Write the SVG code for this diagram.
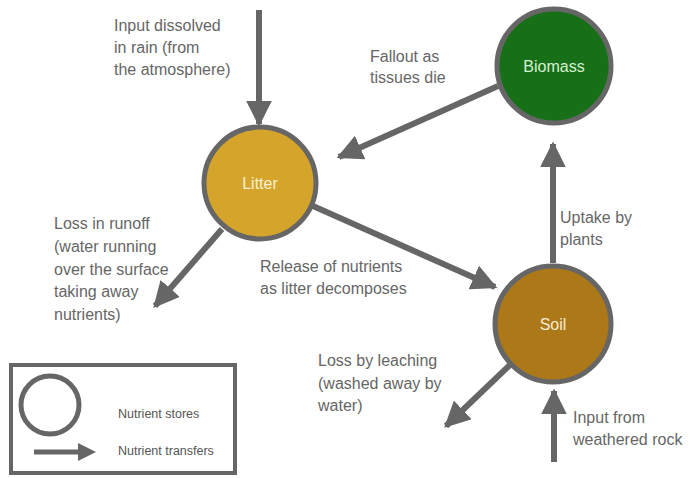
<svg xmlns="http://www.w3.org/2000/svg" width="694" height="478" viewBox="0 0 694 478">
<defs>
<style>
.node{stroke:#666;stroke-width:5}
.nl{font-family:"Liberation Sans",Arial,sans-serif;font-size:16px;text-anchor:middle}
.lbl{font-family:"Liberation Sans",Arial,sans-serif;font-size:16px;fill:#666}
.leg{font-family:"Liberation Sans",Arial,sans-serif;font-size:12.5px;fill:#555}
.conn line{stroke:#666;stroke-width:6}
</style>
<marker id="ah" viewBox="0 0 10 10" refX="9" refY="5" markerWidth="4.3" markerHeight="4.3" orient="auto" markerUnits="strokeWidth">
<path d="M0,0 L10,5 L0,10 Z" fill="#666"/>
</marker>
</defs>
<rect width="694" height="478" fill="#fff"/>
<g id="connectors" class="conn">
<line x1="259" y1="10" x2="259" y2="124" marker-end="url(#ah)"/>
<line x1="498" y1="86" x2="339" y2="157" marker-end="url(#ah)"/>
<line x1="313" y1="206" x2="495" y2="287" marker-end="url(#ah)"/>
<line x1="222" y1="229" x2="155" y2="306" marker-end="url(#ah)"/>
<line x1="553" y1="263" x2="553" y2="144" marker-end="url(#ah)"/>
<line x1="514" y1="361" x2="446" y2="426" marker-end="url(#ah)"/>
<line x1="554" y1="462" x2="554" y2="391" marker-end="url(#ah)"/>
</g>
<g id="litter">
<circle class="node" cx="260" cy="183" r="56" fill="#d5a42a"/>
<text class="nl" x="260" y="189" fill="#f6efd6">Litter</text>
</g>
<g id="biomass">
<circle class="node" cx="554" cy="66" r="57" fill="#177017"/>
<text class="nl" x="554" y="72" fill="#d6efd2">Biomass</text>
</g>
<g id="soil">
<circle class="node" cx="553" cy="324" r="58" fill="#ad7818"/>
<text class="nl" x="553" y="330" fill="#f6ebd2">Soil</text>
</g>
<g id="labels">
<text class="lbl" x="114" y="31">Input dissolved</text>
<text class="lbl" x="114" y="53">in rain (from</text>
<text class="lbl" x="114" y="75">the atmosphere)</text>
<text class="lbl" x="370" y="62">Fallout as</text>
<text class="lbl" x="370" y="83">tissues die</text>
<text class="lbl" x="54" y="229">Loss in runoff</text>
<text class="lbl" x="54" y="252">(water running</text>
<text class="lbl" x="54" y="275">over the surface</text>
<text class="lbl" x="54" y="297">taking away</text>
<text class="lbl" x="54" y="320">nutrients)</text>
<text class="lbl" x="260" y="272">Release of nutrients</text>
<text class="lbl" x="260" y="294">as litter decomposes</text>
<text class="lbl" x="560" y="223">Uptake by</text>
<text class="lbl" x="560" y="245">plants</text>
<text class="lbl" x="318" y="366">Loss by leaching</text>
<text class="lbl" x="318" y="389">(washed away by</text>
<text class="lbl" x="318" y="411">water)</text>
<text class="lbl" x="573" y="423">Input from</text>
<text class="lbl" x="573" y="445">weathered rock</text>
</g>
<g id="legend">
<rect x="11" y="365" width="224" height="108" fill="none" stroke="#666" stroke-width="4"/>
<circle cx="50" cy="405" r="29" fill="none" stroke="#666" stroke-width="5"/>
<line x1="34" y1="452" x2="80" y2="452" stroke="#666" stroke-width="5"/>
<path d="M78,443 L96,452 L78,461 Z" fill="#666"/>
<text class="leg" x="118" y="418">Nutrient stores</text>
<text class="leg" x="118" y="455">Nutrient transfers</text>
</g>
</svg>
